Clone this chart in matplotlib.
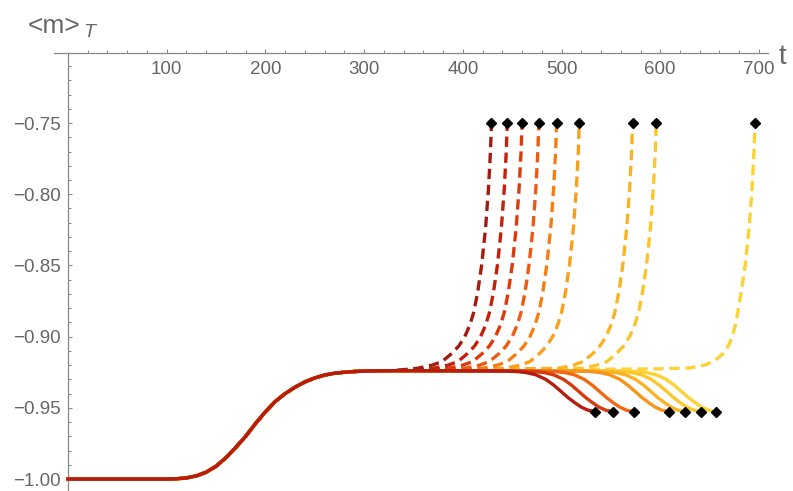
import matplotlib
matplotlib.use("Agg")
import matplotlib.pyplot as plt
from matplotlib.ticker import FixedLocator, FuncFormatter

# shared early part of every run (t, <m>_T)
t_base = [0, 100, 110, 120, 130, 140, 150, 160, 170, 180, 190, 200, 210, 220,
          230, 240, 250, 260, 270, 280, 290, 300, 315, 330]
m_base = [-1.0, -1.0, -0.9998, -0.9992, -0.9978, -0.9952, -0.9910, -0.9850,
          -0.9778, -0.9700, -0.9610, -0.9528, -0.9455, -0.9400, -0.9355,
          -0.9318, -0.9290, -0.9270, -0.9257, -0.9250, -0.9245, -0.9242,
          -0.9240, -0.9239]

# dashed branches, they blow up to -0.75
t_dash = [
    [354, 369, 379, 389, 396, 402, 407, 411, 415, 419, 423, 426, 428, 429],
    [370, 385, 395, 405, 412, 418, 423, 427, 431, 435, 439, 442, 444, 445],
    [360, 385, 400, 410, 420, 427, 433, 438, 442, 446, 450, 454, 457, 459, 460],
    [360, 402, 417, 427, 437, 444, 450, 455, 459, 463, 467, 471, 474, 476, 477],
    [360, 420, 435, 445, 455, 462, 468, 473, 477, 481, 485, 489, 492, 494, 495],
    [360, 443, 458, 468, 478, 485, 491, 496, 500, 504, 508, 512, 515, 517, 518],
    [360, 497, 512, 522, 532, 539, 545, 550, 554, 558, 562, 566, 569, 571, 572],
    [360, 521, 536, 546, 556, 563, 569, 574, 578, 582, 586, 590, 593, 595, 596],
    [360, 566, 600, 630, 645, 655, 664, 669, 673, 676, 678.5, 682, 686, 690, 693, 695, 696],
]
m_dash = [
    [-0.9222, -0.9200, -0.9175, -0.9117, -0.9065, -0.9000, -0.8920, -0.8830,
     -0.8690, -0.8500, -0.8240, -0.7960, -0.7700, -0.7500],
    [-0.9222, -0.9200, -0.9175, -0.9117, -0.9065, -0.9000, -0.8920, -0.8830,
     -0.8690, -0.8500, -0.8240, -0.7960, -0.7700, -0.7500],
    [-0.9236, -0.9222, -0.9200, -0.9175, -0.9117, -0.9065, -0.9000, -0.8920,
     -0.8830, -0.8690, -0.8500, -0.8240, -0.7960, -0.7700, -0.7500],
    [-0.9236, -0.9222, -0.9200, -0.9175, -0.9117, -0.9065, -0.9000, -0.8920,
     -0.8830, -0.8690, -0.8500, -0.8240, -0.7960, -0.7700, -0.7500],
    [-0.9236, -0.9222, -0.9200, -0.9175, -0.9117, -0.9065, -0.9000, -0.8920,
     -0.8830, -0.8690, -0.8500, -0.8240, -0.7960, -0.7700, -0.7500],
    [-0.9236, -0.9222, -0.9200, -0.9175, -0.9117, -0.9065, -0.9000, -0.8920,
     -0.8830, -0.8690, -0.8500, -0.8240, -0.7960, -0.7700, -0.7500],
    [-0.9236, -0.9222, -0.9200, -0.9175, -0.9117, -0.9065, -0.9000, -0.8920,
     -0.8830, -0.8690, -0.8500, -0.8240, -0.7960, -0.7700, -0.7500],
    [-0.9236, -0.9222, -0.9200, -0.9175, -0.9117, -0.9065, -0.9000, -0.8920,
     -0.8830, -0.8690, -0.8500, -0.8240, -0.7960, -0.7700, -0.7500],
    [-0.9234, -0.9228, -0.9226, -0.9220, -0.9200, -0.9170, -0.9117, -0.9065,
     -0.9000, -0.8920, -0.8830, -0.8690, -0.8500, -0.8240, -0.7960, -0.7700,
     -0.7500],
]

# solid branches, they relax down to about -0.953
t_solid = [
    [439, 454, 464, 474, 484, 492, 499, 506, 513, 520, 527, 534],
    [457, 472, 482, 492, 502, 510, 517, 524, 531, 538, 545, 552],
    [478, 493, 503, 513, 523, 531, 538, 545, 552, 559, 566, 573],
    [514, 529, 539, 549, 559, 567, 574, 581, 588, 595, 602, 609],
    [530, 545, 555, 565, 575, 583, 590, 597, 604, 611, 618, 625],
    [546, 561, 571, 581, 591, 599, 606, 613, 620, 627, 634, 641],
    [561, 576, 586, 596, 606, 614, 621, 628, 635, 642, 649, 656],
]
m_solid_shape = [-0.9241, -0.9245, -0.9252, -0.9268, -0.9300, -0.9340,
                 -0.9382, -0.9425, -0.9462, -0.9495, -0.9517, -0.9527]

dash_colors = ['#a31c10', '#c4200a', '#dc3a0c', '#ee5a10', '#f57d12',
               '#f9a01a', '#fab320', '#fcc52a', '#fdd233']
solid_colors = ['#b51d0c', '#d63a0e', '#f06812', '#f7941a', '#f9b222',
                '#fbc72b', '#fdd233']

x_major = [100, 200, 300, 400, 500, 600, 700]
x_minor = [20, 40, 60, 80, 120, 140, 160, 180, 220, 240, 260, 280, 320, 340,
           360, 380, 420, 440, 460, 480, 520, 540, 560, 580, 620, 640, 660,
           680]
y_major = [-1.0, -0.95, -0.9, -0.85, -0.8, -0.75]
y_minor = [-0.99, -0.98, -0.97, -0.96, -0.94, -0.93, -0.92, -0.91, -0.89,
           -0.88, -0.87, -0.86, -0.84, -0.83, -0.82, -0.81, -0.79, -0.78,
           -0.77, -0.76, -0.74, -0.73, -0.72, -0.71]

gray = '#888888'
txt = '#666666'
plt.rcParams['font.family'] = ['Liberation Sans', 'DejaVu Sans']

fig = plt.figure(figsize=(7.93, 4.91), dpi=100)
ax = fig.add_axes([0, 0, 1, 1])

for i in range(len(t_dash) - 1, -1, -1):
    tt = t_base + t_dash[i]
    mm = m_base + m_dash[i]
    ax.plot(tt, mm, color=dash_colors[i], lw=2.4, dashes=(3.1, 1.7),
            dash_capstyle='butt', zorder=2)

for i in range(len(t_solid) - 1, -1, -1):
    tt = t_base + t_solid[i]
    mm = m_base + m_solid_shape
    ax.plot(tt, mm, color=solid_colors[i], lw=2.4, zorder=3)

# end points
for i in range(len(t_dash)):
    ax.plot(t_dash[i][-1], m_dash[i][-1], 'kD', markersize=5.5, zorder=5)
for i in range(len(t_solid)):
    ax.plot(t_solid[i][-1], m_solid_shape[-1], 'kD', markersize=5.5, zorder=5)

# axes in Mathematica style: x axis across the top
ax.set_xlim(-68.9, 734.5)
ax.set_ylim(-1.0084, -0.6636)
for s in ['top', 'right']:
    ax.spines[s].set_visible(False)
ax.spines['left'].set_position(('data', 0))
ax.spines['left'].set_bounds(-1.0084, -0.7008)
ax.spines['bottom'].set_position(('data', -0.7008))
ax.spines['bottom'].set_bounds(-14, 709)
for s in ['left', 'bottom']:
    ax.spines[s].set_color(gray)
    ax.spines[s].set_linewidth(0.9)

ax.xaxis.set_major_locator(FixedLocator(x_major))
ax.xaxis.set_minor_locator(FixedLocator(x_minor))
ax.yaxis.set_major_locator(FixedLocator(y_major))
ax.yaxis.set_minor_locator(FixedLocator(y_minor))
ax.yaxis.set_major_formatter(FuncFormatter(lambda v, p: f"{v:.2f}".replace('-', '\u2212')))
ax.tick_params(which='major', direction='in', length=3.2, width=0.8,
               color=gray, labelcolor=txt, labelsize=13.5)
ax.tick_params(which='minor', direction='in', length=1.9, width=0.7, color=gray)
ax.tick_params(axis='x', which='major', pad=6)
ax.tick_params(axis='y', which='major', pad=5.5)

fig.text(28 / 793, 1 - 33 / 491, '<m>', fontsize=19, color=txt, va='baseline')
fig.text(83 / 793, 1 - 37 / 491, 'T', fontsize=14, color=txt, va='baseline',
         style='italic')
fig.text(779 / 793, 1 - 64 / 491, 't', fontsize=20, color=txt, va='baseline')

fig.savefig('out.png', dpi=100)
